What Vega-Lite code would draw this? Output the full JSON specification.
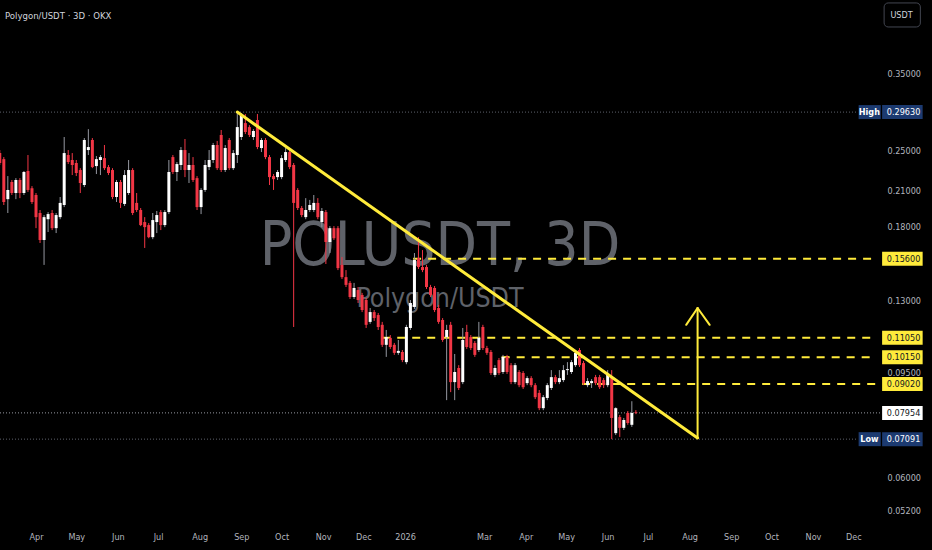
{
  "$schema": "https://vega.github.io/schema/vega-lite/v6.json",
  "width": 882,
  "height": 525,
  "autosize": {"type": "none"},
  "padding": {"left": 0, "top": 0, "right": 50, "bottom": 25},
  "background": "#000000",
  "title": {
    "text": "Polygon/USDT · 3D · OKX",
    "anchor": "start",
    "frame": "group",
    "offset": 0,
    "dx": 5,
    "dy": 28,
    "baseline": "alphabetic",
    "fontSize": 9.5,
    "fontWeight": "normal",
    "color": "#d1d4dc",
    "font": "DejaVu Sans Condensed, DejaVu Sans, sans-serif"
  },
  "config": {
    "view": {"stroke": null},
    "font": "DejaVu Sans Condensed, DejaVu Sans, sans-serif",
    "axis": {
      "domain": false,
      "ticks": false,
      "grid": false,
      "labelColor": "#b2b5be",
      "labelFontSize": 9,
      "title": null
    }
  },
  "datasets": {
    "candles": [
      {"d":"2025-03-05","o":0.2477,"h":0.2510,"l":0.2351,"c":0.2372},
      {"d":"2025-03-08","o":0.2412,"h":0.2434,"l":0.1974,"c":0.2000},
      {"d":"2025-03-11","o":0.2025,"h":0.2240,"l":0.1906,"c":0.2108},
      {"d":"2025-03-14","o":0.2183,"h":0.2202,"l":0.2062,"c":0.2080},
      {"d":"2025-03-17","o":0.2080,"h":0.2220,"l":0.2025,"c":0.2202},
      {"d":"2025-03-20","o":0.2202,"h":0.2220,"l":0.2034,"c":0.2080},
      {"d":"2025-03-23","o":0.2080,"h":0.2290,"l":0.2062,"c":0.2280},
      {"d":"2025-03-26","o":0.2290,"h":0.2456,"l":0.2090,"c":0.2108},
      {"d":"2025-03-29","o":0.2125,"h":0.2144,"l":0.1983,"c":0.2000},
      {"d":"2025-04-01","o":0.2062,"h":0.2080,"l":0.1784,"c":0.1872},
      {"d":"2025-04-04","o":0.1906,"h":0.1931,"l":0.1672,"c":0.1694},
      {"d":"2025-04-07","o":0.1694,"h":0.1889,"l":0.1519,"c":0.1872},
      {"d":"2025-04-10","o":0.1855,"h":0.1914,"l":0.1754,"c":0.1897},
      {"d":"2025-04-13","o":0.1906,"h":0.1931,"l":0.1769,"c":0.1784},
      {"d":"2025-04-16","o":0.1784,"h":0.1906,"l":0.1746,"c":0.1889},
      {"d":"2025-04-19","o":0.1872,"h":0.2044,"l":0.1855,"c":0.1992},
      {"d":"2025-04-22","o":0.1974,"h":0.2657,"l":0.1956,"c":0.2477},
      {"d":"2025-04-25","o":0.2456,"h":0.2510,"l":0.2361,"c":0.2382},
      {"d":"2025-04-28","o":0.2403,"h":0.2477,"l":0.2250,"c":0.2351},
      {"d":"2025-05-01","o":0.2372,"h":0.2403,"l":0.2240,"c":0.2270},
      {"d":"2025-05-04","o":0.2300,"h":0.2319,"l":0.2080,"c":0.2173},
      {"d":"2025-05-07","o":0.2154,"h":0.2645,"l":0.2135,"c":0.2623},
      {"d":"2025-05-10","o":0.2510,"h":0.2750,"l":0.2456,"c":0.2543},
      {"d":"2025-05-13","o":0.2623,"h":0.2645,"l":0.2319,"c":0.2330},
      {"d":"2025-05-16","o":0.2340,"h":0.2445,"l":0.2260,"c":0.2412},
      {"d":"2025-05-19","o":0.2403,"h":0.2456,"l":0.2250,"c":0.2434},
      {"d":"2025-05-22","o":0.2423,"h":0.2566,"l":0.2300,"c":0.2319},
      {"d":"2025-05-25","o":0.2330,"h":0.2351,"l":0.2250,"c":0.2270},
      {"d":"2025-05-28","o":0.2300,"h":0.2319,"l":0.2025,"c":0.2044},
      {"d":"2025-05-31","o":0.2044,"h":0.2202,"l":0.2000,"c":0.2183},
      {"d":"2025-06-03","o":0.2183,"h":0.2202,"l":0.1948,"c":0.1992},
      {"d":"2025-06-06","o":0.1983,"h":0.2300,"l":0.1965,"c":0.2250},
      {"d":"2025-06-09","o":0.2080,"h":0.2403,"l":0.2062,"c":0.2300},
      {"d":"2025-06-12","o":0.2300,"h":0.2319,"l":0.1889,"c":0.1906},
      {"d":"2025-06-15","o":0.1992,"h":0.2080,"l":0.1914,"c":0.1931},
      {"d":"2025-06-18","o":0.1931,"h":0.1948,"l":0.1800,"c":0.1808},
      {"d":"2025-06-21","o":0.1832,"h":0.1872,"l":0.1636,"c":0.1792},
      {"d":"2025-06-24","o":0.1808,"h":0.1824,"l":0.1707,"c":0.1715},
      {"d":"2025-06-27","o":0.1715,"h":0.1906,"l":0.1700,"c":0.1848},
      {"d":"2025-06-30","o":0.1832,"h":0.1923,"l":0.1746,"c":0.1889},
      {"d":"2025-07-03","o":0.1914,"h":0.1931,"l":0.1769,"c":0.1808},
      {"d":"2025-07-06","o":0.1808,"h":0.1931,"l":0.1792,"c":0.1914},
      {"d":"2025-07-09","o":0.1914,"h":0.2403,"l":0.1897,"c":0.2280},
      {"d":"2025-07-12","o":0.2434,"h":0.2456,"l":0.2260,"c":0.2280},
      {"d":"2025-07-15","o":0.2280,"h":0.2382,"l":0.2192,"c":0.2361},
      {"d":"2025-07-18","o":0.2351,"h":0.2543,"l":0.2300,"c":0.2510},
      {"d":"2025-07-21","o":0.2510,"h":0.2634,"l":0.2230,"c":0.2300},
      {"d":"2025-07-24","o":0.2300,"h":0.2477,"l":0.2173,"c":0.2351},
      {"d":"2025-07-27","o":0.2351,"h":0.2434,"l":0.2183,"c":0.2202},
      {"d":"2025-07-30","o":0.2220,"h":0.2240,"l":0.1931,"c":0.1956},
      {"d":"2025-08-02","o":0.1956,"h":0.2125,"l":0.1897,"c":0.2108},
      {"d":"2025-08-05","o":0.2108,"h":0.2403,"l":0.2090,"c":0.2351},
      {"d":"2025-08-08","o":0.2330,"h":0.2510,"l":0.2300,"c":0.2403},
      {"d":"2025-08-11","o":0.2403,"h":0.2589,"l":0.2372,"c":0.2566},
      {"d":"2025-08-14","o":0.2566,"h":0.2612,"l":0.2300,"c":0.2319},
      {"d":"2025-08-17","o":0.2681,"h":0.2740,"l":0.2280,"c":0.2300},
      {"d":"2025-08-20","o":0.2300,"h":0.2566,"l":0.2280,"c":0.2532},
      {"d":"2025-08-23","o":0.2623,"h":0.2645,"l":0.2300,"c":0.2319},
      {"d":"2025-08-26","o":0.2319,"h":0.2510,"l":0.2300,"c":0.2477},
      {"d":"2025-08-29","o":0.2456,"h":0.2963,"l":0.2372,"c":0.2775},
      {"d":"2025-09-01","o":0.2657,"h":0.2951,"l":0.2623,"c":0.2925},
      {"d":"2025-09-04","o":0.2824,"h":0.2938,"l":0.2692,"c":0.2716},
      {"d":"2025-09-07","o":0.2775,"h":0.2799,"l":0.2657,"c":0.2681},
      {"d":"2025-09-10","o":0.2657,"h":0.2750,"l":0.2623,"c":0.2728},
      {"d":"2025-09-13","o":0.2862,"h":0.2938,"l":0.2520,"c":0.2543},
      {"d":"2025-09-16","o":0.2532,"h":0.2645,"l":0.2488,"c":0.2623},
      {"d":"2025-09-19","o":0.2623,"h":0.2645,"l":0.2412,"c":0.2434},
      {"d":"2025-09-22","o":0.2434,"h":0.2456,"l":0.2154,"c":0.2230},
      {"d":"2025-09-25","o":0.2240,"h":0.2260,"l":0.2108,"c":0.2210},
      {"d":"2025-09-28","o":0.2230,"h":0.2300,"l":0.2202,"c":0.2280},
      {"d":"2025-10-01","o":0.2230,"h":0.2456,"l":0.2210,"c":0.2423},
      {"d":"2025-10-04","o":0.2403,"h":0.2532,"l":0.2382,"c":0.2488},
      {"d":"2025-10-07","o":0.2488,"h":0.2510,"l":0.2309,"c":0.2330},
      {"d":"2025-10-10","o":0.2351,"h":0.2372,"l":0.1158,"c":0.1992},
      {"d":"2025-10-13","o":0.2108,"h":0.2125,"l":0.1931,"c":0.1948},
      {"d":"2025-10-16","o":0.1948,"h":0.1965,"l":0.1872,"c":0.1889},
      {"d":"2025-10-19","o":0.1872,"h":0.2034,"l":0.1855,"c":0.1931},
      {"d":"2025-10-22","o":0.1931,"h":0.2018,"l":0.1914,"c":0.1974},
      {"d":"2025-10-25","o":0.1931,"h":0.2062,"l":0.1914,"c":0.1992},
      {"d":"2025-10-28","o":0.1992,"h":0.2034,"l":0.1855,"c":0.1872},
      {"d":"2025-10-31","o":0.1832,"h":0.1948,"l":0.1792,"c":0.1923},
      {"d":"2025-11-03","o":0.1914,"h":0.1931,"l":0.1525,"c":0.1679},
      {"d":"2025-11-06","o":0.1679,"h":0.1800,"l":0.1600,"c":0.1784},
      {"d":"2025-11-09","o":0.1784,"h":0.1800,"l":0.1694,"c":0.1707},
      {"d":"2025-11-12","o":0.1784,"h":0.1800,"l":0.1485,"c":0.1498},
      {"d":"2025-11-15","o":0.1519,"h":0.1572,"l":0.1428,"c":0.1440},
      {"d":"2025-11-18","o":0.1440,"h":0.1485,"l":0.1379,"c":0.1392},
      {"d":"2025-11-21","o":0.1404,"h":0.1416,"l":0.1309,"c":0.1320},
      {"d":"2025-11-24","o":0.1320,"h":0.1404,"l":0.1309,"c":0.1373},
      {"d":"2025-11-27","o":0.1361,"h":0.1379,"l":0.1286,"c":0.1303},
      {"d":"2025-11-30","o":0.1332,"h":0.1344,"l":0.1236,"c":0.1247},
      {"d":"2025-12-03","o":0.1303,"h":0.1314,"l":0.1153,"c":0.1169},
      {"d":"2025-12-06","o":0.1184,"h":0.1258,"l":0.1174,"c":0.1236},
      {"d":"2025-12-09","o":0.1236,"h":0.1247,"l":0.1189,"c":0.1204},
      {"d":"2025-12-12","o":0.1220,"h":0.1231,"l":0.1143,"c":0.1158},
      {"d":"2025-12-15","o":0.1169,"h":0.1184,"l":0.1061,"c":0.1071},
      {"d":"2025-12-18","o":0.1071,"h":0.1143,"l":0.1016,"c":0.1108},
      {"d":"2025-12-21","o":0.1104,"h":0.1118,"l":0.1052,"c":0.1061},
      {"d":"2025-12-24","o":0.1071,"h":0.1080,"l":0.1025,"c":0.1034},
      {"d":"2025-12-27","o":0.1034,"h":0.1094,"l":0.1025,"c":0.1043},
      {"d":"2025-12-30","o":0.1038,"h":0.1047,"l":0.0993,"c":0.1002},
      {"d":"2026-01-02","o":0.0993,"h":0.1169,"l":0.0984,"c":0.1158},
      {"d":"2026-01-05","o":0.1153,"h":0.1303,"l":0.1143,"c":0.1286},
      {"d":"2026-01-08","o":0.1264,"h":0.1600,"l":0.1253,"c":0.1552},
      {"d":"2026-01-11","o":0.1565,"h":0.1715,"l":0.1492,"c":0.1505},
      {"d":"2026-01-14","o":0.1505,"h":0.1621,"l":0.1472,"c":0.1485},
      {"d":"2026-01-17","o":0.1505,"h":0.1519,"l":0.1367,"c":0.1379},
      {"d":"2026-01-20","o":0.1379,"h":0.1392,"l":0.1320,"c":0.1332},
      {"d":"2026-01-23","o":0.1373,"h":0.1385,"l":0.1236,"c":0.1247},
      {"d":"2026-01-26","o":0.1258,"h":0.1275,"l":0.1174,"c":0.1184},
      {"d":"2026-01-29","o":0.1194,"h":0.1204,"l":0.1085,"c":0.1094},
      {"d":"2026-02-01","o":0.1108,"h":0.1169,"l":0.0841,"c":0.1143},
      {"d":"2026-02-04","o":0.1169,"h":0.1184,"l":0.0871,"c":0.0910},
      {"d":"2026-02-07","o":0.0910,"h":0.1029,"l":0.0841,"c":0.0951},
      {"d":"2026-02-10","o":0.0968,"h":0.0980,"l":0.0879,"c":0.0887},
      {"d":"2026-02-13","o":0.0910,"h":0.1153,"l":0.0902,"c":0.1094},
      {"d":"2026-02-16","o":0.1133,"h":0.1169,"l":0.1052,"c":0.1061},
      {"d":"2026-02-19","o":0.1108,"h":0.1118,"l":0.1047,"c":0.1056},
      {"d":"2026-02-22","o":0.1080,"h":0.1089,"l":0.1016,"c":0.1025},
      {"d":"2026-02-25","o":0.1047,"h":0.1184,"l":0.1038,"c":0.1104},
      {"d":"2026-02-28","o":0.1158,"h":0.1169,"l":0.1047,"c":0.1056},
      {"d":"2026-03-03","o":0.1056,"h":0.1066,"l":0.1025,"c":0.1034},
      {"d":"2026-03-06","o":0.1038,"h":0.1047,"l":0.0939,"c":0.0947},
      {"d":"2026-03-09","o":0.0939,"h":0.0980,"l":0.0930,"c":0.0968},
      {"d":"2026-03-12","o":0.1002,"h":0.1011,"l":0.0939,"c":0.0947},
      {"d":"2026-03-15","o":0.0951,"h":0.1025,"l":0.0943,"c":0.1016},
      {"d":"2026-03-18","o":0.1016,"h":0.1025,"l":0.0943,"c":0.0951},
      {"d":"2026-03-21","o":0.0980,"h":0.0989,"l":0.0902,"c":0.0910},
      {"d":"2026-03-24","o":0.0910,"h":0.0989,"l":0.0902,"c":0.0980},
      {"d":"2026-03-27","o":0.0951,"h":0.0959,"l":0.0890,"c":0.0898},
      {"d":"2026-03-30","o":0.0947,"h":0.0955,"l":0.0883,"c":0.0890},
      {"d":"2026-04-02","o":0.0906,"h":0.0934,"l":0.0898,"c":0.0926},
      {"d":"2026-04-05","o":0.0926,"h":0.0934,"l":0.0890,"c":0.0898},
      {"d":"2026-04-08","o":0.0898,"h":0.0906,"l":0.0845,"c":0.0852},
      {"d":"2026-04-11","o":0.0868,"h":0.0879,"l":0.0805,"c":0.0812},
      {"d":"2026-04-14","o":0.0812,"h":0.0860,"l":0.0805,"c":0.0852},
      {"d":"2026-04-17","o":0.0849,"h":0.0906,"l":0.0841,"c":0.0898},
      {"d":"2026-04-20","o":0.0887,"h":0.0959,"l":0.0879,"c":0.0930},
      {"d":"2026-04-23","o":0.0930,"h":0.0939,"l":0.0902,"c":0.0910},
      {"d":"2026-04-26","o":0.0910,"h":0.0959,"l":0.0902,"c":0.0926},
      {"d":"2026-04-29","o":0.0918,"h":0.0980,"l":0.0910,"c":0.0959},
      {"d":"2026-05-02","o":0.0959,"h":0.0993,"l":0.0939,"c":0.0963},
      {"d":"2026-05-05","o":0.0951,"h":0.1002,"l":0.0943,"c":0.0993},
      {"d":"2026-05-08","o":0.0980,"h":0.1047,"l":0.0972,"c":0.1034},
      {"d":"2026-05-11","o":0.1047,"h":0.1056,"l":0.0972,"c":0.0980},
      {"d":"2026-05-14","o":0.0989,"h":0.0998,"l":0.0898,"c":0.0906},
      {"d":"2026-05-17","o":0.0898,"h":0.0926,"l":0.0890,"c":0.0914},
      {"d":"2026-05-20","o":0.0906,"h":0.0922,"l":0.0887,"c":0.0914},
      {"d":"2026-05-23","o":0.0930,"h":0.0939,"l":0.0898,"c":0.0906},
      {"d":"2026-05-26","o":0.0930,"h":0.0939,"l":0.0883,"c":0.0890},
      {"d":"2026-05-29","o":0.0918,"h":0.0926,"l":0.0887,"c":0.0898},
      {"d":"2026-06-01","o":0.0898,"h":0.0959,"l":0.0890,"c":0.0939},
      {"d":"2026-06-04","o":0.0930,"h":0.0959,"l":0.07091,"c":0.0778},
      {"d":"2026-06-07","o":0.0728,"h":0.0815,"l":0.0722,"c":0.0812},
      {"d":"2026-06-10","o":0.0781,"h":0.0788,"l":0.0716,"c":0.0745},
      {"d":"2026-06-13","o":0.0745,"h":0.0778,"l":0.0738,"c":0.0771},
      {"d":"2026-06-16","o":0.0795,"h":0.0802,"l":0.0755,"c":0.0761},
      {"d":"2026-06-19","o":0.0755,"h":0.0837,"l":0.0748,"c":0.0795},
      {"d":"2026-06-22","o":0.0798,"h":0.0805,"l":0.0791,"c":0.07954}
    ],
    "levels": [
      {"p": 0.156, "from": "2026-01-07"},
      {"p": 0.1105, "from": "2025-12-15"},
      {"p": 0.1015, "from": "2026-03-14"},
      {"p": 0.0902, "from": "2026-05-13"}
    ],
    "tags": [
      {"p": 0.2963, "label": "0.29630", "kind": "hl"},
      {"p": 0.156, "label": "0.15600", "kind": "level"},
      {"p": 0.1105, "label": "0.11050", "kind": "level"},
      {"p": 0.1015, "label": "0.10150", "kind": "level"},
      {"p": 0.0902, "label": "0.09020", "kind": "level"},
      {"p": 0.07954, "label": "0.07954", "kind": "last"},
      {"p": 0.07091, "label": "0.07091", "kind": "hl"}
    ],
    "extremes": [
      {"p": 0.2963, "label": "High"},
      {"p": 0.07091, "label": "Low"}
    ],
    "trend": [
      {"d1": "2025-08-29", "p1": 0.2963, "d2": "2026-08-07", "p2": 0.0713}
    ],
    "arrow": [
      {"d1": "2026-08-07", "p1": 0.0713, "d2": "2026-08-07", "p2": 0.1258},
      {"d1": "2026-07-29T12:00:00Z", "p1": 0.1169, "d2": "2026-08-07", "p2": 0.1258},
      {"d1": "2026-08-16", "p1": 0.1169, "d2": "2026-08-07", "p2": 0.1258}
    ]
  },
  "layer": [
    {
      "data": {"values": [{"d": "2026-01-27", "p": 0.1519, "t": "POLUSDT, 3D"}]},
      "mark": {"type": "text", "fontSize": 60, "color": "#5f6269", "align": "center", "baseline": "alphabetic"},
      "encoding": {
        "x": {
          "field": "d",
          "type": "temporal",
          "scale": {
            "type": "utc",
            "padding": 0,
            "domain": [
              {"year": 2025, "month": 3, "date": 5, "hours": 4, "utc": true},
              {"year": 2026, "month": 12, "date": 22, "hours": 10, "utc": true}
            ]
          },
          "axis": {
            "values": [
              {"year": 2025, "month": 4, "date": 1, "utc": true},
              {"year": 2025, "month": 5, "date": 1, "utc": true},
              {"year": 2025, "month": 6, "date": 1, "utc": true},
              {"year": 2025, "month": 7, "date": 1, "utc": true},
              {"year": 2025, "month": 8, "date": 1, "utc": true},
              {"year": 2025, "month": 9, "date": 1, "utc": true},
              {"year": 2025, "month": 10, "date": 1, "utc": true},
              {"year": 2025, "month": 11, "date": 1, "utc": true},
              {"year": 2025, "month": 12, "date": 1, "utc": true},
              {"year": 2026, "month": 1, "date": 1, "utc": true},
              {"year": 2026, "month": 3, "date": 1, "utc": true},
              {"year": 2026, "month": 4, "date": 1, "utc": true},
              {"year": 2026, "month": 5, "date": 1, "utc": true},
              {"year": 2026, "month": 6, "date": 1, "utc": true},
              {"year": 2026, "month": 7, "date": 1, "utc": true},
              {"year": 2026, "month": 8, "date": 1, "utc": true},
              {"year": 2026, "month": 9, "date": 1, "utc": true},
              {"year": 2026, "month": 10, "date": 1, "utc": true},
              {"year": 2026, "month": 11, "date": 1, "utc": true},
              {"year": 2026, "month": 12, "date": 1, "utc": true}
            ],
            "labelExpr": "utcmonth(datum.value) == 0 ? utcFormat(datum.value, '%Y') : utcFormat(datum.value, '%b')",
            "labelPadding": 7,
            "labelOverlap": false,
            "labelFlush": false
          }
        },
        "y": {
          "field": "p",
          "type": "quantitative",
          "scale": {"type": "log", "domain": [0.04872, 0.4837], "nice": false, "zero": false, "padding": 0},
          "axis": {
            "orient": "right",
            "values": [0.052, 0.06, 0.095, 0.13, 0.18, 0.21, 0.25, 0.35],
            "format": ".5f",
            "labelPadding": 5,
            "labelAlign": "left",
            "labelBaseline": "middle",
            "labelOverlap": false,
            "labelFlush": false
          }
        },
        "text": {"field": "t"}
      }
    },
    {
      "data": {"values": [{"d": "2026-01-27", "p": 0.1264, "t": "Polygon/USDT"}]},
      "mark": {"type": "text", "fontSize": 26.5, "color": "#5f6269", "align": "center", "baseline": "alphabetic"},
      "encoding": {
        "x": {"field": "d", "type": "temporal"},
        "y": {"field": "p", "type": "quantitative"},
        "text": {"field": "t"}
      }
    },
    {
      "data": {"name": "extremes"},
      "mark": {"type": "rule", "stroke": "#5d606b", "strokeWidth": 1, "strokeDash": [1, 2]},
      "encoding": {
        "x": {"datum": {"year": 2025, "month": 3, "date": 5, "hours": 4, "utc": true}, "type": "temporal"},
        "x2": {"datum": {"year": 2026, "month": 12, "date": 4, "hours": 12, "utc": true}},
        "y": {"field": "p", "type": "quantitative"}
      }
    },
    {
      "data": {"values": [{"p": 0.07954}]},
      "mark": {"type": "rule", "stroke": "#9598a1", "strokeWidth": 1, "strokeDash": [1, 2]},
      "encoding": {
        "x": {"datum": {"year": 2025, "month": 3, "date": 5, "hours": 4, "utc": true}, "type": "temporal"},
        "x2": {"datum": {"year": 2026, "month": 12, "date": 22, "hours": 10, "utc": true}},
        "y": {"field": "p", "type": "quantitative"}
      }
    },
    {
      "data": {"name": "levels"},
      "mark": {"type": "rule", "stroke": "#ffeb3b", "strokeWidth": 2, "strokeDash": [8, 7]},
      "encoding": {
        "x": {"field": "from", "type": "temporal"},
        "x2": {"datum": {"year": 2026, "month": 12, "date": 18, "utc": true}},
        "y": {"field": "p", "type": "quantitative"}
      }
    },
    {
      "data": {"name": "candles"},
      "mark": {"type": "rule", "strokeWidth": 1},
      "encoding": {
        "x": {"field": "d", "type": "temporal"},
        "y": {"field": "l", "type": "quantitative"},
        "y2": {"field": "h"},
        "color": {"condition": {"test": "datum.c >= datum.o", "value": "#9598a1"}, "value": "#f23645"}
      }
    },
    {
      "data": {"name": "candles"},
      "mark": {"type": "bar", "width": 3},
      "encoding": {
        "x": {"field": "d", "type": "temporal"},
        "y": {"field": "o", "type": "quantitative"},
        "y2": {"field": "c"},
        "color": {"condition": {"test": "datum.c >= datum.o", "value": "#ffffff"}, "value": "#f23645"}
      }
    },
    {
      "data": {"name": "trend"},
      "mark": {"type": "rule", "stroke": "#ffeb3b", "strokeWidth": 3, "strokeCap": "round"},
      "encoding": {
        "x": {"field": "d1", "type": "temporal"},
        "x2": {"field": "d2"},
        "y": {"field": "p1", "type": "quantitative"},
        "y2": {"field": "p2"}
      }
    },
    {
      "data": {"name": "arrow"},
      "mark": {"type": "rule", "stroke": "#ffeb3b", "strokeWidth": 2, "strokeCap": "round"},
      "encoding": {
        "x": {"field": "d1", "type": "temporal"},
        "x2": {"field": "d2"},
        "y": {"field": "p1", "type": "quantitative"},
        "y2": {"field": "p2"}
      }
    },
    {
      "data": {"name": "extremes"},
      "mark": {"type": "rule", "stroke": "#1c3a70", "strokeWidth": 14, "strokeCap": "butt"},
      "encoding": {
        "x": {"datum": {"year": 2026, "month": 12, "date": 5, "utc": true}, "type": "temporal"},
        "x2": {"datum": {"year": 2026, "month": 12, "date": 21, "hours": 12, "utc": true}},
        "y": {"field": "p", "type": "quantitative"}
      }
    },
    {
      "data": {"name": "extremes"},
      "mark": {"type": "text", "align": "center", "baseline": "middle", "fontSize": 9, "fontWeight": "bold", "color": "#ffffff"},
      "encoding": {
        "x": {"datum": {"year": 2026, "month": 12, "date": 13, "utc": true}, "type": "temporal"},
        "y": {"field": "p", "type": "quantitative"},
        "text": {"field": "label"}
      }
    },
    {
      "data": {"name": "tags"},
      "mark": {"type": "rule", "strokeWidth": 14, "strokeCap": "butt"},
      "encoding": {
        "x": {"datum": {"year": 2026, "month": 12, "date": 22, "hours": 12, "utc": true}, "type": "temporal"},
        "x2": {"datum": {"year": 2027, "month": 1, "date": 21, "hours": 17, "utc": true}},
        "y": {"field": "p", "type": "quantitative"},
        "stroke": {
          "field": "kind",
          "type": "nominal",
          "scale": {"domain": ["hl", "level", "last"], "range": ["#1c3a70", "#ffeb3b", "#ffffff"]},
          "legend": null
        }
      }
    },
    {
      "data": {"name": "tags"},
      "mark": {"type": "text", "align": "left", "baseline": "middle", "fontSize": 9},
      "encoding": {
        "x": {"datum": {"year": 2026, "month": 12, "date": 26, "utc": true}, "type": "temporal"},
        "y": {"field": "p", "type": "quantitative"},
        "text": {"field": "label"},
        "fill": {
          "field": "kind",
          "type": "nominal",
          "scale": {"domain": ["hl", "level", "last"], "range": ["#ffffff", "#131722", "#131722"]},
          "legend": null
        }
      }
    },
    {
      "data": {"values": [{"t": "USDT"}]},
      "mark": {"type": "rect", "fill": "#000000", "stroke": "#434651", "strokeWidth": 1, "cornerRadius": 4},
      "encoding": {
        "x": {"datum": {"year": 2026, "month": 12, "date": 24, "utc": true}, "type": "temporal"},
        "x2": {"datum": {"year": 2027, "month": 1, "date": 20, "utc": true}},
        "y": {"datum": 0.4775, "type": "quantitative"},
        "y2": {"datum": 0.4299}
      }
    },
    {
      "data": {"values": [{"t": "USDT"}]},
      "mark": {"type": "text", "align": "center", "baseline": "middle", "fontSize": 9, "color": "#d1d4dc"},
      "encoding": {
        "x": {"datum": {"year": 2027, "month": 1, "date": 6, "utc": true}, "type": "temporal"},
        "y": {"datum": 0.453, "type": "quantitative"},
        "text": {"field": "t"}
      }
    }
  ]
}
